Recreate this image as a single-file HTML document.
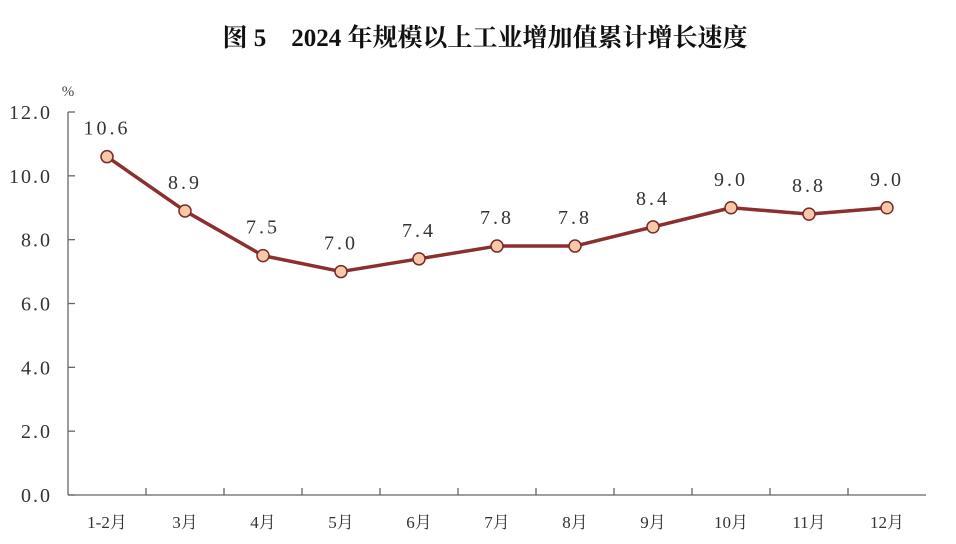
<!DOCTYPE html>
<html><head><meta charset="utf-8"><style>
body{margin:0;background:#fff;}
svg{display:block;font-family:"Liberation Serif","Noto Serif CJK SC",serif;}
</style></head><body>
<svg id="chart" width="956" height="544" viewBox="0 0 956 544">
<text x="485" y="46" text-anchor="middle" font-size="25" font-weight="bold" fill="#111" font-family="Liberation Serif, Noto Serif CJK SC, serif">图 5　2024 年规模以上工业增加值累计增长速度</text>
<text x="68" y="96" text-anchor="middle" font-size="15" fill="#444">%</text>
<g id="axes"></g>
<g id="series"></g>
</svg>
<script>
const categories=["1-2月","3月","4月","5月","6月","7月","8月","9月","10月","11月","12月"];
const values=[10.6,8.9,7.5,7.0,7.4,7.8,7.8,8.4,9.0,8.8,9.0];
const yTicks=[0,2,4,6,8,10,12];
const ns="http://www.w3.org/2000/svg";
const X0=68,BAND=78,Y0=495,YTOP=112,YMAX=12;
const x=i=>X0+BAND*(i+0.5);
const y=v=>Y0-(Y0-YTOP)*v/YMAX;
function mk(tag,attrs,parent,text){const e=document.createElementNS(ns,tag);for(const k in attrs)e.setAttribute(k,attrs[k]);if(text!==undefined)e.textContent=text;parent.appendChild(e);return e;}
const ax=document.getElementById('axes'),se=document.getElementById('series');
const xEnd=X0+BAND*categories.length;
let yl=mk('line',{x1:X0,y1:YTOP,x2:X0,y2:Y0,stroke:'#666','stroke-width':1.3},ax);


let xl=mk('line',{x1:X0,y1:Y0,x2:xEnd,y2:Y0,stroke:'#666','stroke-width':1.3},ax);


yTicks.forEach(t=>{
 const tk=mk('line',{x1:X0,y1:y(t),x2:X0+7,y2:y(t),stroke:'#666','stroke-width':1.3},ax);
 
 
 const lb=mk('text',{x:52,y:y(t)+7,'text-anchor':'end','font-size':20,fill:'#333','letter-spacing':'2'},ax,t.toFixed(1));
 
 
});
categories.forEach((c,i)=>{
 if(i>0){const tk=mk('line',{x1:X0+BAND*i,y1:Y0,x2:X0+BAND*i,y2:Y0-7,stroke:'#666','stroke-width':1.3},ax);
 
 }
 const lb=mk('text',{x:x(i),y:528,'text-anchor':'middle','font-size':17,fill:'#333'},ax,c);
 
 
});
const pts=values.map((v,i)=>x(i)+','+y(v)).join(' ');
const pl=mk('polyline',{points:pts,fill:'none',stroke:'#8b2f2f','stroke-width':3.5,'stroke-linejoin':'round'},se);


values.forEach((v,i)=>{
 const c=mk('circle',{cx:x(i),cy:y(v),r:6,fill:'#f8c9a8',stroke:'#7a2a2a','stroke-width':1.5},se);
 
 
 const t=mk('text',{x:x(i),y:y(v)-22,'text-anchor':'middle','font-size':20,fill:'#333','letter-spacing':'3'},se,v.toFixed(1));
 
 
});
</script>
</body></html>
